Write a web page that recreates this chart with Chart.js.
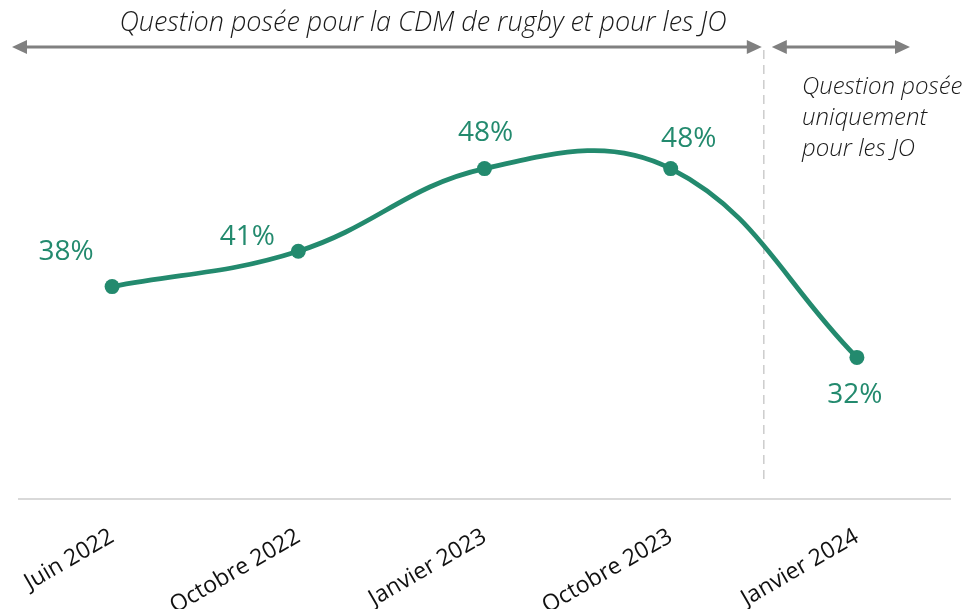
<!DOCTYPE html>
<html>
<head>
<meta charset="utf-8">
<script src="https://cdn.jsdelivr.net/npm/chart.js@4"></script>
<style>
  html, body { margin: 0; padding: 0; background: #fff; }
  .wrap { width: 969px; height: 609px; position: relative; }
</style>
</head>
<body>
<div class="wrap"><canvas id="myChart" width="969" height="609"></canvas></div>
<script>
// data
const categories = ['Juin 2022', 'Octobre 2022', 'Janvier 2023', 'Octobre 2023', 'Janvier 2024'];
const values = [38, 41, 48, 48, 32];
const valueLabels = ['38%', '41%', '48%', '48%', '32%'];
const bannerLeft = 'Question posée pour la CDM de rugby et pour les JO';
const bannerRight = ['Question posée', 'uniquement', 'pour les JO'];

const GREEN = '#238a6e';
const GREY = '#808080';
const FONT = '"Open Sans", sans-serif';

// offsets of each value label from its point
const labelOffsets = [[-46, -35], [-51, -14], [1, -36], [18, -30], [-2, 38]];

function arrowHead(ctx, x, y, dir) {
  ctx.beginPath();
  ctx.moveTo(x, y);
  ctx.lineTo(x - dir * 15, y - 7);
  ctx.lineTo(x - dir * 15, y + 7);
  ctx.closePath();
  ctx.fill();
}

function arrow(ctx, x1, x2, y) {
  ctx.beginPath();
  ctx.moveTo(x1 + 10, y);
  ctx.lineTo(x2 - 10, y);
  ctx.stroke();
  arrowHead(ctx, x1, y, -1);
  arrowHead(ctx, x2, y, 1);
}

const annotations = {
  id: 'annotations',
  beforeDatasetsDraw(chart) {
    const { ctx, chartArea, scales } = chart;
    const x = scales.x;
    // separator halfway between the last two categories
    const sepX = (x.getPixelForValue(3) + x.getPixelForValue(4)) / 2;
    ctx.save();
    ctx.strokeStyle = '#cccccc';
    ctx.lineWidth = 1.5;
    ctx.setLineDash([9, 6]);
    ctx.beginPath();
    ctx.moveTo(sepX, 50);
    ctx.lineTo(sepX, chartArea.bottom - 18);
    ctx.stroke();
    ctx.setLineDash([]);

    ctx.strokeStyle = GREY;
    ctx.fillStyle = GREY;
    ctx.lineWidth = 3;
    arrow(ctx, 12, sepX - 2, 47);
    arrow(ctx, sepX + 8, 910, 47);

    ctx.fillStyle = '#1a1a1a';
    ctx.font = 'italic 300 27px ' + FONT;
    ctx.textAlign = 'center';
    ctx.textBaseline = 'middle';
    ctx.fillText(bannerLeft, 423, 23);

    ctx.font = 'italic 300 24px ' + FONT;
    ctx.textAlign = 'left';
    bannerRight.forEach((line, i) => {
      ctx.fillText(line, 802, 87 + i * 31);
    });
    ctx.restore();
  },
  afterDatasetsDraw(chart) {
    const { ctx } = chart;
    const meta = chart.getDatasetMeta(0);
    ctx.save();
    ctx.fillStyle = GREEN;
    ctx.font = '28px ' + FONT;
    ctx.textAlign = 'center';
    ctx.textBaseline = 'middle';
    meta.data.forEach((pt, i) => {
      const [dx, dy] = labelOffsets[i];
      ctx.fillText(valueLabels[i], pt.x + dx, pt.y + dy);
    });
    ctx.restore();
  },
};

const chartCtx = document.getElementById('myChart').getContext('2d');
new Chart(chartCtx, {
  type: 'line',
  data: {
    labels: categories,
    datasets: [{
      label: 'Résultats',
      data: values,
      borderColor: GREEN,
      backgroundColor: GREEN,
      borderWidth: 4.8,
      tension: 0.4,
      pointRadius: 7.5,
      pointBorderWidth: 0,
      pointBackgroundColor: GREEN,
    }],
  },
  options: {
    animation: false,
    responsive: false,
    layout: { padding: { left: 19, right: 19, top: 27, bottom: 0 } },
    plugins: {
      legend: { display: false },
      tooltip: { enabled: false },
    },
    scales: {
      x: {
        offset: true,
        grid: { display: false, drawTicks: false },
        border: { display: true, color: '#d9d9d9', width: 2 },
        ticks: {
          color: '#111',
          font: { family: FONT, size: 23 },
          minRotation: 30,
          maxRotation: 30,
          padding: 24,
        },
        afterFit(axis) { axis.height = 110; },
      },
      y: {
        display: false,
        min: 20,
        max: 60,
      },
    },
  },
  plugins: [annotations],
});
</script>
</body>
</html>
